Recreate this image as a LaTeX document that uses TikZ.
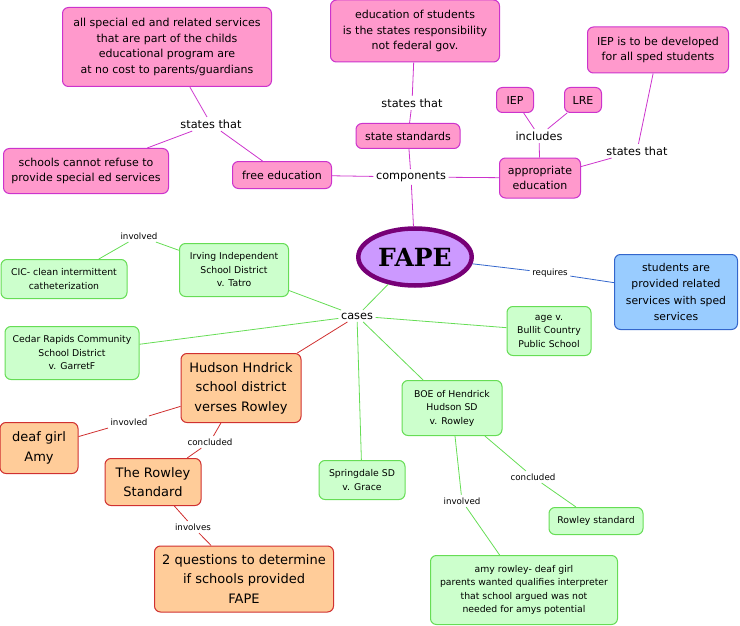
\documentclass[tikz,border=0pt]{standalone}
\usepackage{fontspec}
\setmainfont{DejaVu Sans}
\newfontfamily\fapefont{DejaVu Serif}
\usetikzlibrary{shapes.geometric}
\definecolor{pinkfill}{HTML}{FF99CC}
\definecolor{pinkline}{HTML}{CC33CC}
\definecolor{greenfill}{HTML}{CCFFCC}
\definecolor{greenline}{HTML}{66DD55}
\definecolor{orangefill}{HTML}{FFCC99}
\definecolor{redline}{HTML}{D03030}
\definecolor{bluefill}{HTML}{99CCFF}
\definecolor{blueline}{HTML}{3366CC}
\definecolor{fapefill}{HTML}{CC99FF}
\definecolor{fapeline}{HTML}{770077}
\tikzset{
  box/.style={rounded corners=6pt, line width=1pt, align=center, inner sep=3pt},
  pinkbox/.style={box, draw=pinkline, fill=pinkfill, font=\fontsize{11}{15.5}\selectfont},
  greenbox/.style={box, draw=greenline, fill=greenfill, font=\fontsize{9.3}{13.5}\selectfont},
  orangebox/.style={box, draw=redline, fill=orangefill, font=\fontsize{13}{19.5}\selectfont},
  bluebox/.style={box, draw=blueline, fill=bluefill, font=\fontsize{10.8}{16.5}\selectfont},
  linklabel/.style={inner sep=2.5pt, font=\fontsize{11.3}{13}\selectfont},
  smalllabel/.style={inner sep=2.5pt, font=\fontsize{8.7}{10}\selectfont},
  pinkedge/.style={draw=pinkline, line width=0.8pt},
  greenedge/.style={draw=greenline, line width=0.8pt},
  rededge/.style={draw=redline, line width=0.8pt},
  blueedge/.style={draw=blueline, line width=0.8pt}
}
\begin{document}
\begin{tikzpicture}[x=1pt,y=-1pt]
  \useasboundingbox (0,0) rectangle (740,626);

  % centre
  \node[ellipse, draw=fapeline, line width=4.5pt, fill=fapefill,
        minimum width=105, minimum height=57, font=\fapefont\bfseries\fontsize{25}{28}\selectfont]
        (fape) at (415,257) {FAPE};

  % components branch
  \node[linklabel] (components) at (411,177) {components};
  \node[pinkbox, minimum width=99, minimum height=27] (freeed) at (282,175) {free education};
  \node[linklabel] (statesleft) at (211,124) {states that};
  \node[pinkbox, minimum width=209, minimum height=79] (nocost) at (167,47)
        {all special ed and related services\\that are part of the childs\\educational program are\\at no cost to parents/guardians};
  \node[pinkbox, minimum width=165, minimum height=45] (refuse) at (86,171)
        {schools cannot refuse to\\provide special ed services};
  \node[pinkbox, minimum width=104, minimum height=25] (statestd) at (408,136) {state standards};
  \node[linklabel] (statesmid) at (412,103) {states that};
  \node[pinkbox, minimum width=169, minimum height=62] (stateresp) at (415,31)
        {education of students\\is the states responsibility\\not federal gov.};
  \node[pinkbox, minimum width=81, minimum height=40] (approp) at (540,178) {appropriate\\education};
  \node[linklabel] (includes) at (539,136) {includes};
  \node[pinkbox, minimum width=37, minimum height=25] (iep) at (515,100) {IEP};
  \node[pinkbox, minimum width=37, minimum height=25] (lre) at (583,100) {LRE};
  \node[linklabel] (statesright) at (637,151) {states that};
  \node[pinkbox, minimum width=141, minimum height=46] (iepall) at (658,50)
        {IEP is to be developed\\for all sped students};

  \draw[pinkedge] (fape) -- (components);
  \draw[pinkedge] (components) -- (freeed);
  \draw[pinkedge] (components) -- (statestd);
  \draw[pinkedge] (components) -- (approp);
  \draw[pinkedge] (freeed) -- (statesleft);
  \draw[pinkedge] (statesleft) -- (nocost);
  \draw[pinkedge] (statesleft) -- (refuse);
  \draw[pinkedge] (statestd) -- (statesmid);
  \draw[pinkedge] (statesmid) -- (stateresp);
  \draw[pinkedge] (approp) -- (includes);
  \draw[pinkedge] (includes) -- (iep);
  \draw[pinkedge] (includes) -- (lre);
  \draw[pinkedge] (approp) -- (statesright);
  \draw[pinkedge] (statesright) -- (iepall);

  % requires branch
  \node[smalllabel] (requires) at (550,273) {requires};
  \node[bluebox, minimum width=123, minimum height=75] (related) at (676,292)
        {students are\\provided related\\services with sped\\services};
  \draw[blueedge] (fape) -- (requires);
  \draw[blueedge] (requires) -- (related);

  % cases branch
  \node[linklabel] (cases) at (357,316) {cases};
  \node[greenbox, minimum width=109, minimum height=53] (tatro) at (234,270)
        {Irving Independent\\School District\\v. Tatro};
  \node[smalllabel] (involvedcic) at (139,236) {involved};
  \node[greenbox, minimum width=126, minimum height=39] (cic) at (64,279)
        {CIC- clean intermittent\\catheterization};
  \node[greenbox, minimum width=134, minimum height=53] (garret) at (72,353)
        {Cedar Rapids Community\\School District\\v. GarretF};
  \node[greenbox, minimum width=84, minimum height=49] (bullit) at (549,331)
        {age v.\\Bullit Country\\Public School};
  \node[greenbox, minimum width=86, minimum height=39] (grace) at (362,480)
        {Springdale SD\\v. Grace};
  \node[greenbox, minimum width=100, minimum height=55] (boe) at (452,408)
        {BOE of Hendrick\\Hudson SD\\v. Rowley};
  \node[smalllabel] (involvedamy) at (462,501) {involved};
  \node[smalllabel] (concludedstd) at (533,477) {concluded};
  \node[greenbox, minimum width=94, minimum height=27] (rowleystd) at (596,521) {Rowley standard};
  \node[greenbox, minimum width=187, minimum height=69] (amyrowley) at (524,590)
        {amy rowley- deaf girl\\parents wanted qualifies interpreter\\that school argued was not\\needed for amys potential};

  \draw[greenedge] (fape) -- (cases);
  \draw[greenedge] (cases) -- (tatro);
  \draw[greenedge] (tatro) -- (involvedcic);
  \draw[greenedge] (involvedcic) -- (cic);
  \draw[greenedge] (cases) -- (garret);
  \draw[greenedge] (cases) -- (bullit);
  \draw[greenedge] (cases) -- (grace);
  \draw[greenedge] (cases) -- (boe);
  \draw[greenedge] (boe) -- (involvedamy);
  \draw[greenedge] (involvedamy) -- (amyrowley);
  \draw[greenedge] (boe) -- (concludedstd);
  \draw[greenedge] (concludedstd) -- (rowleystd);

  % Hudson case
  \node[orangebox, minimum width=120, minimum height=69] (hudson) at (241,388)
        {Hudson Hndrick\\school district\\verses Rowley};
  \node[smalllabel] (invovled) at (129,422) {invovled};
  \node[orangebox, minimum width=78, minimum height=51] (amy) at (39,448) {deaf girl\\Amy};
  \node[smalllabel] (concludedrs) at (210,442) {concluded};
  \node[orangebox, minimum width=96, minimum height=47] (rstandard) at (153,482) {The Rowley\\Standard};
  \node[smalllabel] (involves) at (193,527) {involves};
  \node[orangebox, minimum width=179, minimum height=66] (questions) at (244,579)
        {2 questions to determine\\if schools provided\\FAPE};

  \draw[rededge] (cases) -- (hudson);
  \draw[rededge] (hudson) -- (invovled);
  \draw[rededge] (invovled) -- (amy);
  \draw[rededge] (hudson) -- (concludedrs);
  \draw[rededge] (concludedrs) -- (rstandard);
  \draw[rededge] (rstandard) -- (involves);
  \draw[rededge] (involves) -- (questions);
\end{tikzpicture}
\end{document}
